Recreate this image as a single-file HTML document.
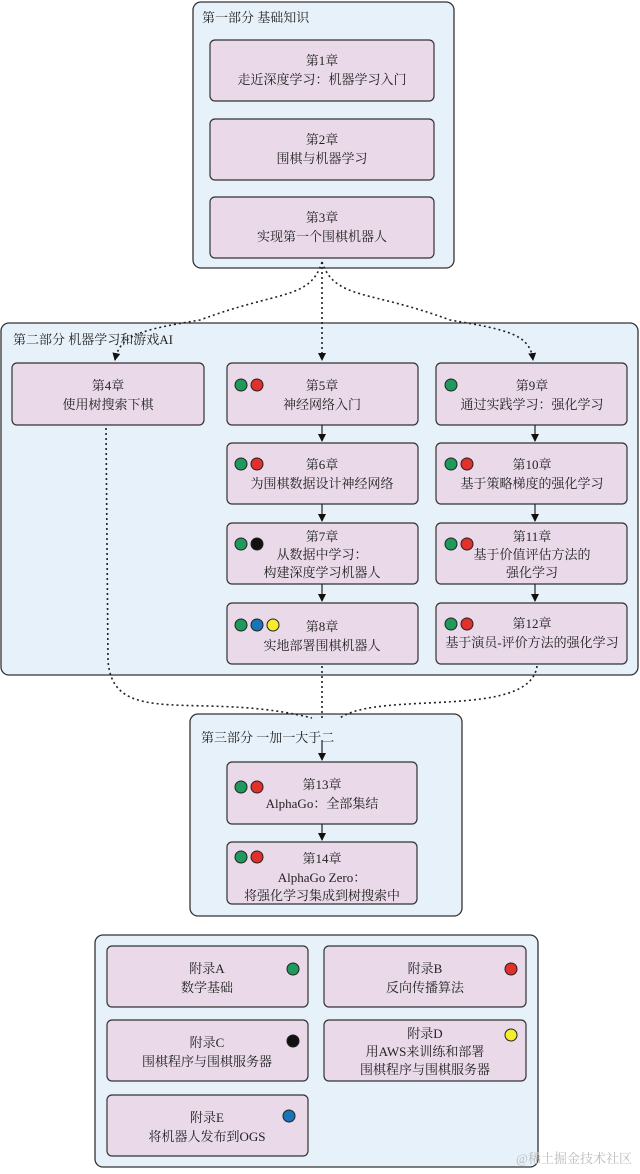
<!DOCTYPE html>
<html><head><meta charset="utf-8"><style>
html,body{margin:0;padding:0;background:#fff;}
svg text{font-family:"Liberation Serif","Noto Serif CJK SC","Noto Sans CJK SC",serif;font-size:13px;fill:#222;}
</style></head><body>
<svg width="640" height="1169" viewBox="0 0 640 1169" xmlns="http://www.w3.org/2000/svg">
<defs>
<marker id="ar" markerWidth="8" markerHeight="10" refX="7" refY="5" orient="auto" markerUnits="userSpaceOnUse">
<path d="M0,1 L8,5 L0,9 Z" fill="#111"/></marker>
</defs>
<g stroke="#333" stroke-width="1.3" fill="#e7f1f9">
<rect x="193" y="2" width="261" height="266" rx="8"/>
<rect x="1" y="323" width="637" height="352" rx="8"/>
<rect x="190" y="714" width="272" height="202" rx="8"/>
<rect x="95" y="935" width="443" height="232" rx="8"/>
</g>
<g fill="#e9d9e9" stroke="#333" stroke-width="1.2">
<rect x="210" y="40" width="224" height="61" rx="5"/>
<rect x="210" y="119" width="224" height="61" rx="5"/>
<rect x="210" y="197" width="224" height="61" rx="5"/>
<rect x="12" y="363" width="192" height="62" rx="5"/>
<rect x="227" y="363" width="191" height="62" rx="5"/>
<rect x="227" y="443" width="191" height="61" rx="5"/>
<rect x="227" y="523" width="191" height="61" rx="5"/>
<rect x="227" y="603" width="191" height="61" rx="5"/>
<rect x="436" y="363" width="191" height="62" rx="5"/>
<rect x="436" y="443" width="191" height="61" rx="5"/>
<rect x="436" y="523" width="191" height="61" rx="5"/>
<rect x="436" y="603" width="191" height="61" rx="5"/>
<rect x="227" y="762" width="190" height="62" rx="5"/>
<rect x="227" y="842" width="190" height="62" rx="5"/>
<rect x="107" y="946" width="201" height="61" rx="5"/>
<rect x="324" y="946" width="202" height="61" rx="5"/>
<rect x="107" y="1020" width="201" height="61" rx="5"/>
<rect x="324" y="1020" width="202" height="61" rx="5"/>
<rect x="107" y="1095" width="201" height="61" rx="5"/>
</g>
<g fill="none" stroke="#222" stroke-width="1.6" stroke-dasharray="2,3">
<path d="M322,262 C310,300 280,290 200,320 C140,330 120,335 115,360" marker-end="url(#ar)"/>
<path d="M322,262 L322,360" marker-end="url(#ar)"/>
<path d="M322,262 C335,300 370,290 450,320 C510,330 530,335 533,360" marker-end="url(#ar)"/>
<path d="M106,428 L108,660 C112,730 200,690 312,718"/>
<path d="M322,666 L322,720"/>
<path d="M537,666 C530,720 380,690 340,718"/>
</g>
<g stroke="#222" stroke-width="1.2" fill="none">
<path d="M322,740 L322,760" marker-end="url(#ar)"/>
<path d="M322,824 L322,840" marker-end="url(#ar)"/>
<path d="M322,425 L322,441" marker-end="url(#ar)"/>
<path d="M322,504 L322,521" marker-end="url(#ar)"/>
<path d="M322,584 L322,601" marker-end="url(#ar)"/>
<path d="M535,425 L535,441" marker-end="url(#ar)"/>
<path d="M535,504 L535,521" marker-end="url(#ar)"/>
<path d="M535,584 L535,601" marker-end="url(#ar)"/>
</g>
<g stroke="#222" stroke-width="1">
<circle cx="241" cy="385" r="6" fill="#1f9a5c"/><circle cx="257" cy="385" r="6" fill="#e2302c"/>
<circle cx="241" cy="464" r="6" fill="#1f9a5c"/><circle cx="257" cy="464" r="6" fill="#e2302c"/>
<circle cx="241" cy="544" r="6" fill="#1f9a5c"/><circle cx="257" cy="544" r="6" fill="#111"/>
<circle cx="241" cy="625" r="6" fill="#1f9a5c"/><circle cx="257" cy="625" r="6" fill="#1a75b8"/><circle cx="273" cy="625" r="6" fill="#f4ec2c"/>
<circle cx="451" cy="385" r="6" fill="#1f9a5c"/>
<circle cx="451" cy="464" r="6" fill="#1f9a5c"/><circle cx="467" cy="464" r="6" fill="#e2302c"/>
<circle cx="451" cy="544" r="6" fill="#1f9a5c"/><circle cx="467" cy="544" r="6" fill="#e2302c"/>
<circle cx="451" cy="624" r="6" fill="#1f9a5c"/><circle cx="467" cy="624" r="6" fill="#e2302c"/>
<circle cx="241" cy="787" r="6" fill="#1f9a5c"/><circle cx="257" cy="787" r="6" fill="#e2302c"/>
<circle cx="241" cy="857" r="6" fill="#1f9a5c"/><circle cx="257" cy="857" r="6" fill="#e2302c"/>
<circle cx="293" cy="969" r="6" fill="#1f9a5c"/>
<circle cx="511" cy="969" r="6" fill="#e2302c"/>
<circle cx="293" cy="1041" r="6" fill="#111"/>
<circle cx="511" cy="1035" r="6" fill="#f4ec2c"/>
<circle cx="289" cy="1116" r="6" fill="#1a75b8"/>
</g>
<g>
<text x="202" y="22">第一部分 基础知识</text>
<text x="13" y="344">第二部分 机器学习和游戏AI</text>
<text x="201" y="742">第三部分   一加一大于二</text>
</g>
<g text-anchor="middle">
<text x="322" y="65">第1章</text><text x="322" y="84">走近深度学习：机器学习入门</text>
<text x="322" y="144">第2章</text><text x="322" y="163">围棋与机器学习</text>
<text x="322" y="222">第3章</text><text x="322" y="241">实现第一个围棋机器人</text>
<text x="108" y="390">第4章</text><text x="108" y="409">使用树搜索下棋</text>
<text x="322" y="390">第5章</text><text x="322" y="409">神经网络入门</text>
<text x="322" y="469">第6章</text><text x="322" y="488">为围棋数据设计神经网络</text>
<text x="322" y="541">第7章</text><text x="322" y="559">从数据中学习：</text><text x="322" y="577">构建深度学习机器人</text>
<text x="322" y="631">第8章</text><text x="322" y="650">实地部署围棋机器人</text>
<text x="532" y="390">第9章</text><text x="532" y="409">通过实践学习：强化学习</text>
<text x="532" y="469">第10章</text><text x="532" y="488">基于策略梯度的强化学习</text>
<text x="532" y="541">第11章</text><text x="532" y="559">基于价值评估方法的</text><text x="532" y="577">强化学习</text>
<text x="532" y="628">第12章</text><text x="532" y="647">基于演员-评价方法的强化学习</text>
<text x="322" y="789">第13章</text><text x="322" y="808">AlphaGo：全部集结</text>
<text x="322" y="863">第14章</text><text x="322" y="882">AlphaGo Zero：</text><text x="322" y="900">将强化学习集成到树搜索中</text>
<text x="207" y="973">附录A</text><text x="207" y="992">数学基础</text>
<text x="425" y="973">附录B</text><text x="425" y="992">反向传播算法</text>
<text x="207" y="1047">附录C</text><text x="207" y="1066">围棋程序与围棋服务器</text>
<text x="425" y="1038">附录D</text><text x="425" y="1056">用AWS来训练和部署</text><text x="425" y="1074">围棋程序与围棋服务器</text>
<text x="207" y="1122">附录E</text><text x="207" y="1141">将机器人发布到OGS</text>
</g>
<text x="516" y="1163" style="fill:#bbb;font-size:13px">@稀土掘金技术社区</text>
</svg>
</body></html>
